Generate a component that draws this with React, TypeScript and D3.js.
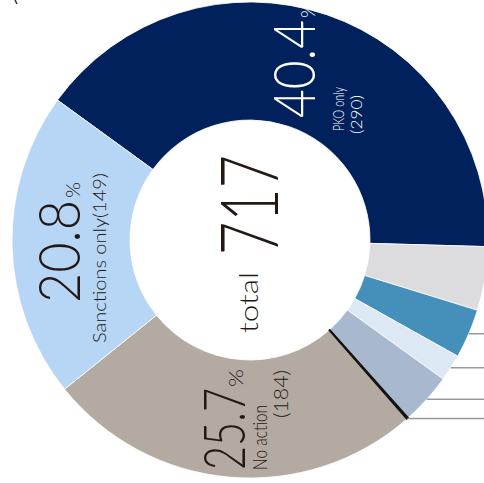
import React from "react";
import * as d3 from "d3";

const categories = ["PKO only", "Other A", "Other B", "Other C", "Other D", "Other E", "No action", "Sanctions only"];
const counts = [290, 31, 24, 13, 25, 1, 184, 149];
const colors = ["#00215b", "#dcdcdf", "#4490bb", "#dce9f4", "#a8b8cf", "#111111", "#b3aba2", "#b7d5f4"];
const leaderSlices = [2, 3, 4, 5];
const totalLabel = "717";

const W = 484;
const H = 483;
const cx = 250;
const cy = 240;
const rIn = 120;
const rOut = 238;
const startDeg = -54;

type T = { x: number; y: number; text: string; size: number; len: number; fill: string };

export default function App() {
  const total = d3.sum(counts);
  const pie = d3
    .pie<number>()
    .sort(null)
    .startAngle((startDeg * Math.PI) / 180)
    .endAngle((startDeg * Math.PI) / 180 + 2 * Math.PI);
  const arcs = pie(counts);
  const arc = d3.arc<d3.PieArcDatum<number>>().innerRadius(rIn).outerRadius(rOut);
  const pct = (i: number) => ((counts[i] / total) * 100).toFixed(1);
  const font = "Lato, 'Open Sans', sans-serif";
  const dark = "#231815";

  const texts: T[] = [
    // PKO only
    { x: 315, y: 118, text: pct(0), size: 57, len: 98, fill: "#fff" },
    { x: 315, y: 18, text: "%", size: 19, len: 15, fill: "#fff" },
    { x: 344, y: 131, text: categories[0], size: 16, len: 44, fill: "#fff" },
    { x: 362, y: 134, text: `(${counts[0]})`, size: 16, len: 39, fill: "#fff" },
    // Sanctions only
    { x: 80, y: 303, text: pct(7), size: 57, len: 103, fill: dark },
    { x: 80, y: 198, text: "%", size: 19, len: 16, fill: dark },
    { x: 106, y: 343, text: `${categories[7]}(${counts[7]})`, size: 18, len: 170, fill: dark },
    // No action
    { x: 245, y: 470, text: pct(6), size: 57, len: 82, fill: dark },
    { x: 243, y: 387, text: "%", size: 19, len: 18, fill: dark },
    { x: 267, y: 470, text: categories[6], size: 19, len: 65, fill: dark },
    { x: 288, y: 418, text: `(${counts[6]})`, size: 19, len: 48, fill: dark },
    // center
    { x: 278, y: 255, text: totalLabel, size: 80, len: 100, fill: dark },
    { x: 258, y: 333, text: "total", size: 26, len: 61, fill: dark },
  ];

  const order = arcs.map((_, i) => i).sort((a, b) => (counts[a] <= 1 ? 1 : 0) - (counts[b] <= 1 ? 1 : 0));

  return (
    <svg
      width={W}
      height={H}
      style={{ position: "absolute", left: 0, top: 0, background: "#fff" }}
      fontFamily={font}
    >
      <line x1={15} y1={0} x2={17} y2={4} stroke="#333" strokeWidth={1.5} />
      <g transform={`translate(${cx},${cy})`}>
        {order.map((i) => (
          <path
            key={i}
            d={arc(arcs[i]) || ""}
            fill={colors[i]}
            stroke={counts[i] <= 1 ? colors[i] : "#fff"}
            strokeWidth={counts[i] <= 1 ? 1.2 : 0.8}
          />
        ))}
        {leaderSlices.map((i) => {
          const m = (arcs[i].startAngle + arcs[i].endAngle) / 2;
          const x = Math.sin(m) * rOut;
          const y = -Math.cos(m) * rOut;
          return <line key={i} x1={x} y1={y} x2={W - cx} y2={y} stroke="#999" strokeWidth={1.5} />;
        })}
      </g>
      {texts.map((t, i) => (
        <text
          key={i}
          transform={`translate(${t.x},${t.y}) rotate(-90)`}
          fill={t.fill}
          fontSize={t.size}
          fontWeight={300}
          textLength={t.len}
          lengthAdjust="spacingAndGlyphs"
        >
          {t.text}
        </text>
      ))}
    </svg>
  );
}
